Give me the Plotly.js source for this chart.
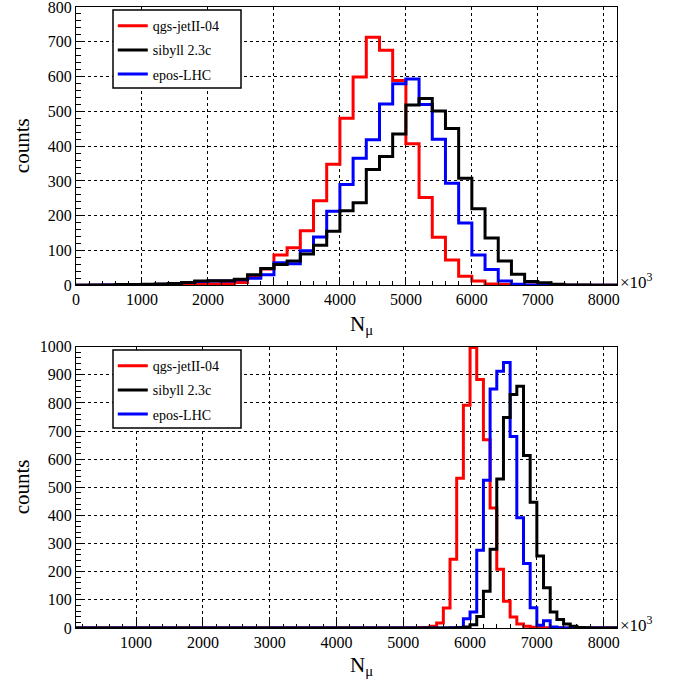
<!DOCTYPE html>
<html>
<head>
<meta charset="utf-8">
<script src="https://cdn.plot.ly/plotly-3.0.1.min.js"></script>
<style>html,body{margin:0;padding:0;background:#fff;}#chart{width:677px;height:683px;}</style>
</head>
<body>
<div id="chart"></div>
<script>
// ---- data ----
const seriesNames = ["qgs-jetII-04", "sibyll 2.3c", "epos-LHC"];
const seriesColors = ["#ff0000", "#000000", "#0000ff"];
const drawOrder = [0, 2, 1]; // red, blue, black on top

// top panel: bins of width 200 starting at 0 (41 bins, 0..8200)
const topBinStart = 0;
const topBinWidth = 200;
const topQgs = [0,0,0,0,1,1,1,2,2,3,
                4,5,8,23,47,87,108,157,243,348,
                480,599,713,676,589,407,252,138,73,26,
                12,4,2,1,1,1,0,0,0,0,
                0];
const topSibyll = [0,1,1,2,2,3,4,5,8,12,
                   13,13,17,30,48,60,70,90,115,155,
                   214,237,333,370,435,518,537,501,451,308,
                   220,136,70,32,11,7,3,1,1,0,
                   0];
const topEpos = [0,0,1,1,2,2,3,5,8,11,
                 12,12,16,20,30,65,62,99,139,213,
                 290,365,418,521,579,593,520,420,293,179,
                 87,45,12,3,1,0,0,0,0,0,
                 0];

// bottom panel: bins of width 100 starting at 100 (81 bins, 100..8200)
const botBinStart = 100;
const botBinWidth = 100;
const botQgs = [0,0,0,0,0,0,0,0,0,0,
                0,0,0,0,0,0,0,0,0,0,
                0,0,0,0,0,0,0,0,0,0,
                0,0,0,0,0,0,0,0,0,0,
                0,0,0,0,0,0,0,0,0,0,
                0,1,2,6,18,71,244,532,792,997,
                883,669,427,209,95,39,14,6,3,2,
                1,1,0,0,0,0,0,0,0,0,
                0];
const botSibyll = [0,0,0,0,0,0,0,0,0,0,
                   0,0,0,0,0,0,0,0,0,0,
                   0,0,0,0,0,0,0,0,0,0,
                   0,0,0,0,0,0,0,0,0,0,
                   0,0,0,0,0,0,0,0,0,0,
                   0,0,0,0,0,0,0,1,4,12,
                   41,131,280,530,748,830,859,613,447,256,
                   143,57,30,14,6,2,1,0,0,0,
                   0];
const botEpos = [0,0,0,0,0,0,0,0,0,0,
                 0,0,0,0,0,0,0,0,0,0,
                 0,0,0,0,0,0,0,0,0,0,
                 0,0,0,0,0,0,0,0,0,0,
                 0,0,0,0,0,0,0,0,0,0,
                 0,0,0,0,0,0,1,2,33,57,
                 276,525,850,913,944,681,392,229,72,10,
                 26,4,1,0,0,0,0,0,0,0,
                 0];

const xTitle = "N<sub>μ</sub>";
const yTitle = "counts";
const xMult = "×10<sup>3</sup>";

// ---- build step traces ----
function stepXY(start, width, vals) {
  const x = [], y = [];
  for (let i = 0; i < vals.length; i++) { x.push(start + i * width); y.push(vals[i]); }
  x.push(start + vals.length * width); y.push(vals[vals.length - 1]);
  return {x, y};
}
const FONT = "Liberation Serif, Times New Roman, serif";
const traces = [];
const panels = [
  {sets: [topQgs, topSibyll, topEpos], start: topBinStart, width: topBinWidth, xa: "x", ya: "y", lg: "legend", p: "t"},
  {sets: [botQgs, botSibyll, botEpos], start: botBinStart, width: botBinWidth, xa: "x2", ya: "y2", lg: "legend2", p: "b"}
];
panels.forEach(P => {
  drawOrder.forEach(k => {
    const s = stepXY(P.start, P.width, P.sets[k]);
    traces.push({x: s.x, y: s.y, type: "scatter", mode: "lines", line: {shape: "hv", color: seriesColors[k], width: 3},
      name: seriesNames[k], xaxis: P.xa, yaxis: P.ya, legend: P.lg, legendgroup: P.p + k, legendrank: k + 1});
  });
});

function xax(range, anchor) {
  return {range: range, anchor: anchor, domain: [0, 1], showline: true, linecolor: "black", linewidth: 1, mirror: true,
    ticks: "inside", ticklen: 8, tickcolor: "black", tickwidth: 1, tick0: 0, dtick: 1000,
    minor: {ticks: "inside", ticklen: 4, tickcolor: "black", dtick: 200, tick0: 0, showgrid: false},
    showgrid: true, gridcolor: "black", griddash: "dot", gridwidth: 1, zeroline: false,
    ticklabeloverflow: "allow",
    tickfont: {family: FONT, size: 16, color: "black"}, automargin: false, fixedrange: true};
}
function yax(range, domain, anchor) {
  return {range: range, domain: domain, anchor: anchor, showline: true, linecolor: "black", linewidth: 1, mirror: true,
    ticks: "inside", ticklen: 9, tickcolor: "black", tickwidth: 1, tick0: 0, dtick: 100,
    minor: {ticks: "inside", ticklen: 5, tickcolor: "black", dtick: 20, tick0: 0, showgrid: false},
    showgrid: true, gridcolor: "black", griddash: "dot", gridwidth: 1, zeroline: false,
    ticklabeloverflow: "allow",
    tickfont: {family: FONT, size: 16, color: "black"}, automargin: false, fixedrange: true};
}
const legendBase = {bgcolor: "rgba(0,0,0,0)", borderwidth: 0, xanchor: "left", yanchor: "top",
  font: {family: FONT, size: 14, color: "black"}, itemwidth: 30, tracegroupgap: 3, traceorder: "grouped"};

// legend frames (paper coords)
const boxX0 = 0.0684, boxX1 = 0.305;
const layout = {
  width: 677, height: 683,
  margin: {l: 76, r: 60, t: 7, b: 55},
  paper_bgcolor: "white", plot_bgcolor: "white",
  showlegend: true,
  xaxis: xax([0, 8200], "y"),
  yaxis: yax([0, 800], [0.5519, 1], "x"),
  xaxis2: xax([100, 8200], "y2"),
  yaxis2: yax([0, 1000], [0, 0.453], "x2"),
  legend: Object.assign({}, legendBase, {x: 0.068, y: 0.995}),
  legend2: Object.assign({}, legendBase, {x: 0.068, y: 0.4475}),
  shapes: [
    {type: "rect", xref: "paper", yref: "paper", x0: boxX0, x1: boxX1, y0: 0.8696, y1: 0.9952,
      line: {color: "black", width: 1.5}, fillcolor: "white", layer: "above"},
    {type: "rect", xref: "paper", yref: "paper", x0: boxX0, x1: boxX1, y0: 0.3221, y1: 0.4477,
      line: {color: "black", width: 1.5}, fillcolor: "white", layer: "above"}
  ],
  annotations: [
    {text: yTitle, xref: "paper", yref: "y domain", x: -0.0998, y: 0.5, textangle: -90, showarrow: false,
      xanchor: "center", yanchor: "middle", font: {family: FONT, size: 21, color: "black"}},
    {text: yTitle, xref: "paper", yref: "y2 domain", x: -0.0998, y: 0.5, textangle: -90, showarrow: false,
      xanchor: "center", yanchor: "middle", font: {family: FONT, size: 21, color: "black"}},
    {text: xTitle, xref: "paper", yref: "y domain", x: 0.527, y: -0.143, showarrow: false,
      xanchor: "center", yanchor: "middle", font: {family: FONT, size: 21, color: "black"}},
    {text: xTitle, xref: "paper", yref: "y2 domain", x: 0.527, y: -0.135, showarrow: false,
      xanchor: "center", yanchor: "middle", font: {family: FONT, size: 21, color: "black"}},
    {text: xMult, xref: "paper", yref: "y domain", x: 1.002, y: 0, yshift: 4, showarrow: false,
      xanchor: "left", yanchor: "middle", font: {family: FONT, size: 17, color: "black"}},
    {text: xMult, xref: "paper", yref: "y2 domain", x: 1.002, y: 0, yshift: 4, showarrow: false,
      xanchor: "left", yanchor: "middle", font: {family: FONT, size: 17, color: "black"}}
  ]
};
Plotly.newPlot("chart", traces, layout, {staticPlot: true, displayModeBar: false});
</script>
</body>
</html>
